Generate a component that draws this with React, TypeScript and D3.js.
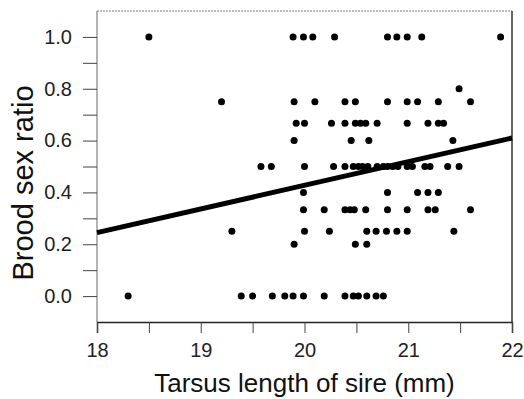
import { useEffect, useRef } from "react";
import * as d3 from "d3";

// brood sex ratio rows: x values (tarsus length) per ratio level
const ratio100 = [18.5, 19.89, 19.99, 20.08, 20.29, 20.8, 20.89, 20.99, 21.13, 21.89];
const ratio080 = [21.49];
const ratio075 = [19.2, 19.9, 20.1, 20.39, 20.49, 20.8, 20.99, 21.09, 21.29, 21.6];
const ratio067 = [19.92, 20.0, 20.26, 20.39, 20.49, 20.54, 20.59, 20.7, 20.99, 21.19, 21.29, 21.34];
const ratio060 = [19.9, 20.45, 20.62, 21.43];
const ratio050 = [
  19.58, 19.68, 20.0, 20.28, 20.39, 20.47, 20.52, 20.56, 20.61, 20.7, 20.76, 20.8, 20.85, 20.9,
  20.99, 21.04, 21.16, 21.21, 21.38, 21.49,
];
const ratio040 = [19.99, 20.8, 21.09, 21.19, 21.29];
const ratio033 = [19.99, 20.19, 20.39, 20.44, 20.48, 20.59, 20.8, 20.99, 21.19, 21.26, 21.6];
const ratio025 = [19.3, 20.0, 20.24, 20.6, 20.69, 20.79, 20.89, 20.99, 21.44];
const ratio020 = [19.9, 20.49, 20.6];
const ratio000 = [
  18.3, 19.39, 19.5, 19.69, 19.81, 19.89, 19.99, 20.19, 20.39, 20.47, 20.52, 20.6, 20.69, 20.76,
];

const rows: [number, number[]][] = [
  [1.0, ratio100],
  [0.8, ratio080],
  [0.75, ratio075],
  [2 / 3, ratio067],
  [0.6, ratio060],
  [0.5, ratio050],
  [0.4, ratio040],
  [1 / 3, ratio033],
  [0.25, ratio025],
  [0.2, ratio020],
  [0.0, ratio000],
];

// fitted regression line endpoints
const fitX = [18, 22];
const fitY = [0.245, 0.61];

const xTicks = [18, 19, 20, 21, 22];
const yTicks = [0.0, 0.2, 0.4, 0.6, 0.8, 1.0];

const width = 524;
const height = 399;
const margin = { top: 11, right: 12, bottom: 77, left: 97 };
const font = "Arial, 'Liberation Sans', sans-serif";

export default function App() {
  const svgRef = useRef<SVGSVGElement>(null);

  useEffect(() => {
    if (!svgRef.current) return;
    const svg = d3.select(svgRef.current);
    svg.selectAll("*").remove();

    const innerWidth = width - margin.left - margin.right;
    const innerHeight = height - margin.top - margin.bottom;

    const x = d3.scaleLinear().domain([18, 22]).range([0, innerWidth]);
    const y = d3.scaleLinear().domain([-0.1, 1.1]).range([innerHeight, 0]);

    const g = svg
      .append("g")
      .attr("transform", `translate(${margin.left},${margin.top})`);

    // frame: top and left are faint, right and bottom are solid
    g.append("line")
      .attr("x1", 0).attr("x2", innerWidth).attr("y1", 0).attr("y2", 0)
      .attr("stroke", "#777").attr("stroke-width", 1).attr("stroke-dasharray", "2,1");
    g.append("line")
      .attr("x1", 0).attr("x2", 0).attr("y1", 0).attr("y2", innerHeight)
      .attr("stroke", "#666").attr("stroke-width", 1);
    g.append("line")
      .attr("x1", innerWidth).attr("x2", innerWidth).attr("y1", 0).attr("y2", innerHeight)
      .attr("stroke", "#333").attr("stroke-width", 1.5);

    // x axis
    const xAxis = g
      .append("g")
      .attr("transform", `translate(0,${innerHeight})`)
      .call(
        d3.axisBottom(x)
          .tickValues(d3.range(18, 22.01, 0.5))
          .tickSize(11)
          .tickFormat((d) => (xTicks.includes(+d) ? d3.format("d")(+d) : ""))
      );
    xAxis.select(".domain").attr("stroke", "#222").attr("stroke-width", 1.5);
    xAxis.selectAll(".tick line").attr("stroke", "#444");
    xAxis
      .selectAll("text")
      .attr("font-family", font)
      .attr("font-size", 20)
      .attr("fill", "#222")
      .attr("dy", "1.05em");

    // y axis
    const yAxis = g.append("g").call(
      d3.axisLeft(y)
        .tickValues(d3.range(0, 1.01, 0.1).map((v) => +v.toFixed(1)))
        .tickSize(14)
        .tickPadding(11)
        .tickFormat((d) => (yTicks.some((t) => Math.abs(t - +d) < 1e-6) ? d3.format(".1f")(+d) : ""))
    );
    yAxis.select(".domain").remove();
    yAxis.selectAll(".tick line").attr("stroke", "#444");
    yAxis
      .selectAll("text")
      .attr("font-family", font)
      .attr("font-size", 20)
      .attr("fill", "#222");

    // points
    const points = rows.flatMap(([r, xs]) => xs.map((v) => ({ x: v, y: r })));
    g.selectAll("circle")
      .data(points)
      .join("circle")
      .attr("cx", (d) => x(d.x))
      .attr("cy", (d) => y(d.y))
      .attr("r", 3.5)
      .attr("fill", "#000");

    // regression line
    const line = d3
      .line<number>()
      .x((d) => x(fitX[d]))
      .y((d) => y(fitY[d]));
    g.append("path")
      .datum([0, 1])
      .attr("fill", "none")
      .attr("stroke", "#000")
      .attr("stroke-width", 5)
      .attr("d", line);

    // axis titles
    svg
      .append("text")
      .attr("x", margin.left + innerWidth / 2)
      .attr("y", 392)
      .attr("text-anchor", "middle")
      .attr("font-family", font)
      .attr("font-size", 26)
      .attr("fill", "#111")
      .text("Tarsus length of sire (mm)");

    svg
      .append("text")
      .attr("transform", `translate(33,183) rotate(-90)`)
      .attr("text-anchor", "middle")
      .attr("font-family", font)
      .attr("font-size", 29)
      .attr("fill", "#111")
      .text("Brood sex ratio");
  }, []);

  return (
    <div style={{ position: "absolute", left: 0, top: 0 }}>
      <svg ref={svgRef} width={width} height={height} style={{ display: "block", background: "#fff" }} />
    </div>
  );
}
